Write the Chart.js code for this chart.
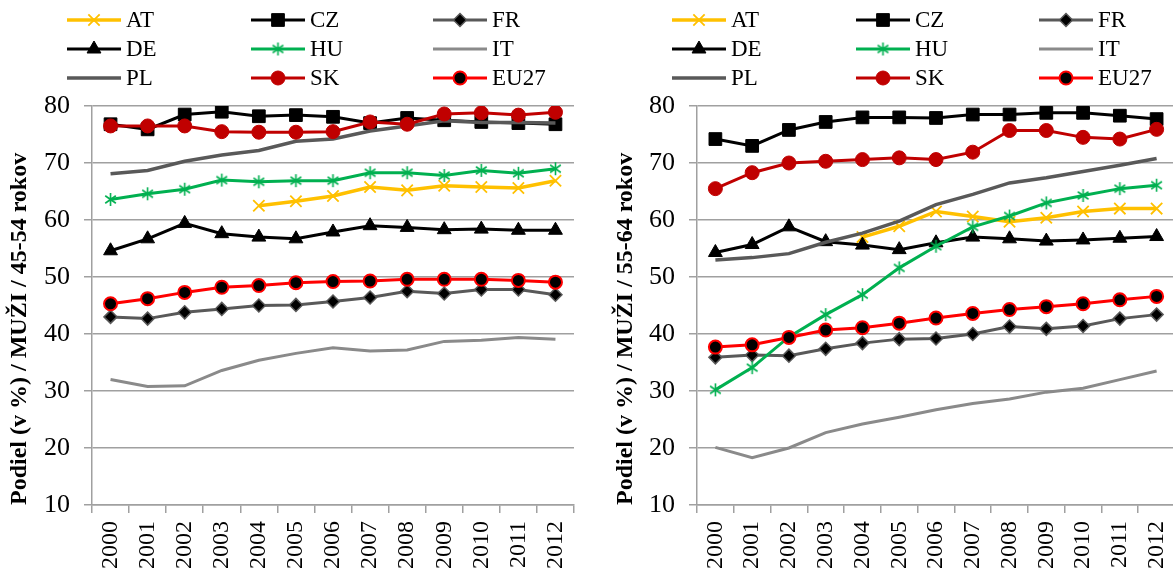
<!DOCTYPE html>
<html><head><meta charset="utf-8">
<script src="https://cdn.jsdelivr.net/npm/chart.js@4.4.0/dist/chart.umd.min.js"></script>
<style>
html,body{margin:0;padding:0;background:#fff;overflow:hidden;width:1173px;height:579px;position:relative;}
#w1{position:absolute;left:0;top:0;width:590px;height:579px;}
#w2{position:absolute;left:590px;top:0;width:600px;height:579px;}
</style></head><body>
<div id="w1"><canvas id="c1"></canvas></div>
<div id="w2"><canvas id="c2"></canvas></div>
<script>
const years = ['2000','2001','2002','2003','2004','2005','2006','2007','2008','2009','2010','2011','2012'];
const seriesNames = ['AT','CZ','FR','DE','HU','IT','PL','SK','EU27'];
const titleLeft = 'Podiel (v %) / MUŽI / 45-54 rokov';
const titleRight = 'Podiel (v %) / MUŽI / 55-64 rokov';

// 45-54
const at_4554 = [null,null,null,null,62.5,63.3,64.2,65.8,65.2,66.0,65.8,65.6,66.9];
const cz_4554 = [76.8,75.9,78.5,79.0,78.2,78.4,78.1,77.0,77.9,77.5,77.2,77.0,76.8];
const fr_4554 = [43.0,42.7,43.8,44.4,45.0,45.1,45.7,46.4,47.5,47.1,47.8,47.8,46.9];
const de_4554 = [54.6,56.7,59.4,57.6,57.0,56.7,57.9,59.0,58.7,58.3,58.4,58.2,58.2];
const hu_4554 = [63.6,64.6,65.4,67.0,66.7,66.9,66.9,68.3,68.3,67.8,68.7,68.2,69.0];
const it_4554 = [32.0,30.8,30.9,33.6,35.4,36.6,37.6,37.0,37.2,38.7,38.9,39.4,39.1];
const pl_4554 = [68.1,68.7,70.3,71.4,72.2,73.8,74.2,75.6,76.5,77.4,77.1,77.1,77.0];
const sk_4554 = [76.5,76.5,76.5,75.5,75.4,75.4,75.5,77.2,76.8,78.6,78.8,78.4,78.9];
const eu_4554 = [45.3,46.2,47.3,48.2,48.5,49.0,49.2,49.3,49.6,49.6,49.6,49.4,49.1];

// 55-64
const at_5564 = [null,null,null,null,57.0,58.9,61.5,60.6,59.7,60.4,61.5,62.0,62.0];
const cz_5564 = [74.2,73.0,75.8,77.2,78.0,78.0,77.9,78.5,78.5,78.8,78.8,78.3,77.7];
const fr_5564 = [35.9,36.3,36.2,37.4,38.4,39.1,39.2,40.0,41.3,40.9,41.4,42.7,43.4];
const de_5564 = [54.3,55.7,58.8,56.2,55.6,54.8,56.0,57.0,56.7,56.3,56.5,56.8,57.1];
const hu_5564 = [30.2,34.1,39.5,43.4,46.9,51.6,55.4,58.8,60.7,63.0,64.3,65.5,66.1];
const it_5564 = [20.1,18.3,20.0,22.7,24.2,25.4,26.7,27.8,28.6,29.8,30.5,32.0,33.5];
const pl_5564 = [53.0,53.4,54.1,56.1,57.7,59.8,62.7,64.5,66.5,67.4,68.5,69.6,70.8];
const sk_5564 = [65.5,68.3,70.0,70.3,70.6,70.9,70.6,71.9,75.7,75.7,74.5,74.2,75.9];
const eu_5564 = [37.7,38.1,39.4,40.7,41.1,41.9,42.8,43.6,44.3,44.8,45.3,46.0,46.6];

const yMin = 10, yMax = 80, yStep = 10;

function asterisk(color, r, lw){
  const s = Math.ceil(2*r + lw + 2);
  const c = document.createElement('canvas');
  c.width = s; c.height = s;
  const g = c.getContext('2d');
  g.strokeStyle = color; g.lineWidth = lw; g.lineCap = 'butt';
  const cx = s/2, cy = s/2;
  g.beginPath();
  [90, 35, 145].forEach(a => {
    const rad = a*Math.PI/180;
    g.moveTo(cx - Math.cos(rad)*r, cy - Math.sin(rad)*r);
    g.lineTo(cx + Math.cos(rad)*r, cy + Math.sin(rad)*r);
  });
  g.stroke();
  return c;
}
const huStar = asterisk('#00B050', 6.5, 1.6);

const styles = {
  AT:  {borderColor:'#FFC000', borderWidth:3.5, pointStyle:'crossRot', pointRadius:8, pointBackgroundColor:'#FFC000', pointBorderColor:'#FFC000', pointBorderWidth:1.8},
  CZ:  {borderColor:'#000000', borderWidth:3, pointStyle:'rect', pointRadius:9, pointBackgroundColor:'#000', pointBorderColor:'#000', pointBorderWidth:1},
  FR:  {borderColor:'#595959', borderWidth:3, pointStyle:'rectRot', pointRadius:6.5, pointBackgroundColor:'#000', pointBorderColor:'#595959', pointBorderWidth:1.5},
  DE:  {borderColor:'#000000', borderWidth:3, pointStyle:'triangle', pointRadius:8, pointBackgroundColor:'#000', pointBorderColor:'#000', pointBorderWidth:1},
  HU:  {borderColor:'#00B050', borderWidth:3, pointStyle:huStar, pointRadius:7, pointBackgroundColor:'#00B050', pointBorderColor:'#00B050', pointBorderWidth:0},
  IT:  {borderColor:'#8A8A8A', borderWidth:3, pointStyle:'circle', pointRadius:0, pointBackgroundColor:'#8A8A8A', pointBorderColor:'#8A8A8A', pointBorderWidth:0},
  PL:  {borderColor:'#595959', borderWidth:3.5, pointStyle:'circle', pointRadius:0, pointBackgroundColor:'#595959', pointBorderColor:'#595959', pointBorderWidth:0},
  SK:  {borderColor:'#C00000', borderWidth:3, pointStyle:'circle', pointRadius:7, pointBackgroundColor:'#C00000', pointBorderColor:'#C00000', pointBorderWidth:1},
  EU27:{borderColor:'#FF0000', borderWidth:3, pointStyle:'circle', pointRadius:6.5, pointBackgroundColor:'#000', pointBorderColor:'#FF0000', pointBorderWidth:2}
};

function makeDatasets(arrs){
  return seriesNames.map((n,i) => Object.assign({
    label: n, data: arrs[i], tension: 0, fill: false, spanGaps: false,
    pointHoverRadius: styles[n].pointRadius, order: 20 - i
  }, styles[n]));
}

const legendPlugin = {
  id: 'customLegend',
  afterDraw(chart, args, opts){
    const ctx = chart.ctx;
    chart.data.datasets.forEach((ds, i) => {
      const col = i % 3, row = Math.floor(i / 3);
      const x0 = opts.colX[col], y = opts.rowY[row], len = opts.len;
      ctx.save();
      ctx.strokeStyle = ds.borderColor; ctx.lineWidth = ds.borderWidth;
      ctx.beginPath(); ctx.moveTo(x0, y); ctx.lineTo(x0 + len, y); ctx.stroke();
      if (ds.pointRadius > 0) {
        ctx.fillStyle = ds.pointBackgroundColor;
        ctx.strokeStyle = ds.pointBorderColor;
        ctx.lineWidth = ds.pointBorderWidth;
        Chart.helpers.drawPoint(ctx, {pointStyle: ds.pointStyle, radius: ds.pointRadius, borderWidth: ds.pointBorderWidth, rotation: 0}, x0 + len/2, y);
      }
      ctx.fillStyle = '#000';
      ctx.font = '23px "Liberation Serif"';
      ctx.textBaseline = 'middle'; ctx.textAlign = 'left';
      ctx.fillText(ds.label, x0 + len + 5, y + 1);
      ctx.restore();
    });
  }
};

function makeChart(id, arrs, title, pad, yWidth, legendOpts){
  return new Chart(document.getElementById(id), {
    type: 'line',
    data: { labels: years, datasets: makeDatasets(arrs) },
    plugins: [legendPlugin],
    options: {
      responsive: true, maintainAspectRatio: false, animation: false, devicePixelRatio: 1,
      layout: { padding: pad },
      plugins: { legend: {display: false}, tooltip: {enabled: false}, customLegend: legendOpts },
      scales: {
        x: {
          type: 'category', offset: true,
          grid: { offset: true, drawOnChartArea: false, drawTicks: true, tickLength: 8, color: '#A0A0A0', lineWidth: 1.5 },
          border: { color: '#A0A0A0', width: 1.5 },
          ticks: { minRotation: 90, maxRotation: 90, autoSkip: false, padding: 8, color: '#000', font: {family: '"Liberation Serif"', size: 24} },
          afterFit: s => { s.height = 74; s.paddingRight = 0; s.paddingLeft = 0; }
        },
        y: {
          min: yMin, max: yMax,
          grid: { color: '#A0A0A0', lineWidth: 1.5, tickLength: 8 },
          border: { color: '#A0A0A0', width: 1.5 },
          ticks: { stepSize: yStep, padding: 14, color: '#000', font: {family: '"Liberation Serif"', size: 26} },
          title: { display: true, text: title, align: 'start', color: '#000', padding: {top: 0, bottom: 0}, font: {family: '"Liberation Serif"', size: 24, weight: 'bold'} },
          afterFit: s => { s.width = yWidth; }
        }
      }
    }
  });
}

makeChart('c1', [at_4554, cz_4554, fr_4554, de_4554, hu_4554, it_4554, pl_4554, sk_4554, eu_4554], titleLeft,
  {top: 106, left: 5, right: 16, bottom: 0}, 87,
  {colX: [67, 251, 433], rowY: [20, 49, 78], len: 54});
makeChart('c2', [at_5564, cz_5564, fr_5564, de_5564, hu_5564, it_5564, pl_5564, sk_5564, eu_5564], titleRight,
  {top: 106, left: 21, right: 15, bottom: 0}, 86,
  {colX: [82, 266, 449], rowY: [20, 49, 78], len: 54});
</script>
</body></html>
